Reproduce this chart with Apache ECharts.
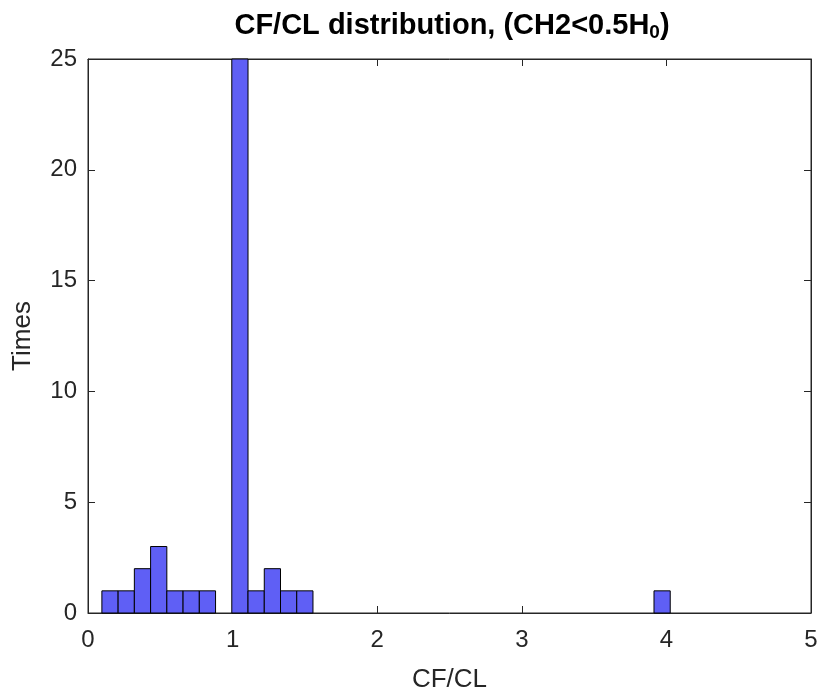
<!DOCTYPE html>
<html><head><meta charset="utf-8">
<script src="https://cdn.jsdelivr.net/npm/echarts@6/dist/echarts.min.js"></script>
<style>html,body{margin:0;padding:0;background:#fff}#c{width:823px;height:700px}</style>
</head><body><div id="c"></div>
<script>
// Histogram data
var binStart = 0.096;
var binWidth = 0.1123;
var counts = [1,1,2,3,1,1,1,0,25,1,2,1,1,0,0,0,0,0,0,0,0,0,0,0,0,0,0,0,0,0,0,0,0,0,1];
var xTicks = [0,1,2,3,4,5];
var yTicks = [0,5,10,15,20,25];

var bins = counts.map(function(c,i){ return [binStart + i*binWidth, binStart + (i+1)*binWidth, c]; }).filter(function(d){return d[2]>0;});

var chart = echarts.init(document.getElementById('c'), null, {renderer:'canvas'});
var font = 'Liberation Sans, Arial, Helvetica, sans-serif';
var axCol = '#262626';
function mkTick(){ return {show:true,inside:true,length:7,lineStyle:{color:axCol,width:1}}; }
chart.setOption({
  backgroundColor:'#fff',
  animation:false,
  title:{
    text:'{t|CF/CL distribution, (CH2<0.5H}{s|0}{t|)}',
    left:447, top:5, textAlign:'center',
    textStyle:{rich:{
      t:{fontFamily:font,fontWeight:'bold',fontSize:29,color:'#000'},
      s:{fontFamily:font,fontWeight:'bold',fontSize:19,color:'#000',verticalAlign:'bottom',padding:[13,0,0,0]}
    }}
  },
  grid:{left:88,right:12,top:59,bottom:87,show:true,borderColor:axCol,borderWidth:1,backgroundColor:'#fff'},
  xAxis:[{
    type:'value',min:0,max:5,interval:1,position:'bottom',
    name:'CF/CL',nameLocation:'middle',nameGap:54,
    nameTextStyle:{fontFamily:font,fontSize:26,color:axCol},
    axisLine:{show:true,onZero:false,lineStyle:{color:axCol,width:1}},
    axisTick:mkTick(),
    axisLabel:{fontFamily:font,fontSize:24,color:axCol,margin:15,formatter:function(v){return xTicks.indexOf(v)>=0?String(v):'';}},
    splitLine:{show:false}
  },{
    type:'value',min:0,max:5,interval:1,position:'top',
    axisLine:{show:true,onZero:false,lineStyle:{color:axCol,width:1}},
    axisTick:mkTick(),
    axisLabel:{show:false},splitLine:{show:false}
  }],
  yAxis:[{
    type:'value',min:0,max:25,interval:5,position:'left',
    name:'Times',nameLocation:'middle',nameGap:52,nameRotate:90,
    nameTextStyle:{fontFamily:font,fontSize:26,color:axCol},
    axisLine:{show:true,onZero:false,lineStyle:{color:axCol,width:1}},
    axisTick:mkTick(),
    axisLabel:{fontFamily:font,fontSize:24,color:axCol,margin:11,formatter:function(v){return yTicks.indexOf(v)>=0?String(v):'';}},
    splitLine:{show:false}
  },{
    type:'value',min:0,max:25,interval:5,position:'right',
    axisLine:{show:true,onZero:false,lineStyle:{color:axCol,width:1}},
    axisTick:mkTick(),
    axisLabel:{show:false},splitLine:{show:false}
  }],
  series:[{
    type:'custom',
    xAxisIndex:0,yAxisIndex:0,
    data:bins,
    renderItem:function(params,api){
      var p0 = api.coord([api.value(0), api.value(2)]);
      var p1 = api.coord([api.value(1), 0]);
      return {type:'rect',shape:{x:p0[0],y:p0[1],width:p1[0]-p0[0],height:p1[1]-p0[1]},
        style:{fill:'#5f5ff5',stroke:'#000',lineWidth:1}};
    }
  },{
    type:'line',xAxisIndex:1,yAxisIndex:1,data:[],silent:true,showSymbol:false
  }]
});
</script></body></html>
